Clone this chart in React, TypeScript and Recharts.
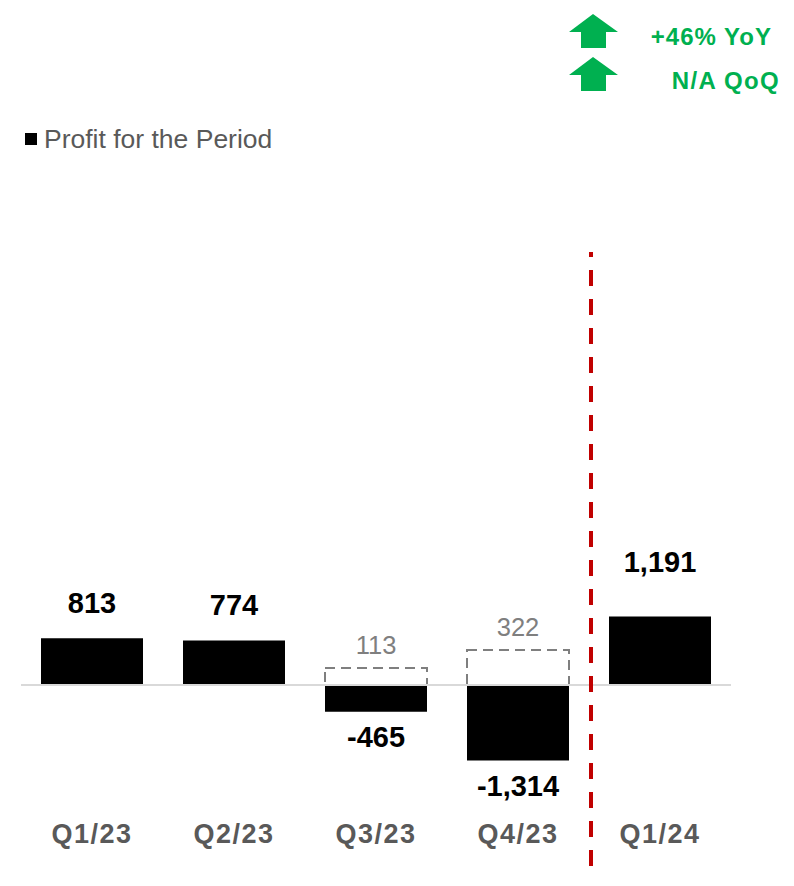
import React from 'react';
import { BarChart, Bar, XAxis, YAxis, ReferenceLine, LabelList, Legend } from 'recharts';

const quarters = ['Q1/23', 'Q2/23', 'Q3/23', 'Q4/23', 'Q1/24'];
const profit = [813, 774, -465, -1314, 1191];
// Dashed "adjusted" boxes: heights as drawn in the picture, and their printed labels
const adjustedBox = [null, null, 296, 610, null];
const adjustedLabels = [null, null, 113, 322, null];
const growthLabels = ['+46% YoY', 'N/A QoQ'];
const seriesName = 'Profit for the Period';

const data = quarters.map((q, i) => ({
  quarter: q,
  profit: profit[i],
  adjusted: adjustedBox[i],
  adjustedLabel: adjustedLabels[i],
}));

const FONT = '"Liberation Sans", Arial, Helvetica, sans-serif';
const GREEN = '#00B050';

const fmt = (v: number) => (v < 0 ? '-' : '') + Math.abs(v).toLocaleString('en-US');

const ProfitLabel = (props: any) => {
  const { x, y, width, height, value, index } = props;
  if (value === null || value === undefined) return null;
  const top = Math.min(y, y + height);
  const bottom = Math.max(y, y + height);
  const lift = index === profit.length - 1 ? 45 : 25;
  const ty = value >= 0 ? top - lift : bottom + 35;
  return (
    <text x={x + width / 2} y={ty} textAnchor="middle" fontFamily={FONT} fontWeight="bold" fontSize={29} fill="#000">
      {fmt(value)}
    </text>
  );
};

const AdjustedLabel = (props: any) => {
  const { x, y, width, height, value } = props;
  if (value === null || value === undefined) return null;
  const top = Math.min(y, y + height);
  return (
    <text x={x + width / 2} y={top - 14} textAnchor="middle" fontFamily={FONT} fontSize={25.5} fill="#7F7F7F">
      {value}
    </text>
  );
};

const QuarterTick = (props: any) => {
  const { x, y, payload } = props;
  return (
    <text x={x} y={y} dy={64} textAnchor="middle" fontFamily={FONT} fontWeight="bold" fontSize={27} letterSpacing={1.5} fill="#595959">
      {payload.value}
    </text>
  );
};

const LegendContent = (props: any) => {
  const items = (props.payload || []).filter((p: any) => p.type !== 'none');
  return (
    <div style={{ display: 'flex', alignItems: 'center' }}>
      {items.map((it: any) => (
        <div key={it.value} style={{ display: 'flex', alignItems: 'center' }}>
          <span style={{ display: 'inline-block', width: 12, height: 12, background: '#000', marginRight: 7 }} />
          <span style={{ fontFamily: FONT, fontSize: 26.5, color: '#595959', lineHeight: '28px' }}>{it.value}</span>
        </div>
      ))}
    </div>
  );
};

const Divider = (props: any) => {
  const x = props.x1;
  return <line x1={x + 2} x2={x + 2} y1={866} y2={252} stroke="#C00000" strokeWidth={4} strokeDasharray="16 13" />;
};

const Arrow = ({ top }: { top: number }) => (
  <polygon
    points={`593,${top} 618,${top + 18} 606,${top + 18} 606,${top + 34} 581,${top + 34} 581,${top + 18} 569,${top + 18}`}
    fill={GREEN}
  />
);

export default function App() {
  return (
    <div style={{ position: 'absolute', left: 0, top: 0, width: 794, height: 886, background: '#fff' }}>
      <svg style={{ position: 'absolute', left: 0, top: 0 }} width={794} height={110}>
        <Arrow top={14} />
        <Arrow top={57} />
        <text x={772} y={45} textAnchor="end" fontFamily={FONT} fontWeight="bold" fontSize={24} letterSpacing={1} fill={GREEN}>
          {growthLabels[0]}
        </text>
        <text x={780} y={89} textAnchor="end" fontFamily={FONT} fontWeight="bold" fontSize={24} letterSpacing={1.3} fill={GREEN}>
          {growthLabels[1]}
        </text>
      </svg>
      <BarChart
        width={794}
        height={886}
        data={data}
        stackOffset="sign"
        barSize={102}
        margin={{ top: 593, right: 63, left: 21, bottom: 49 }}
        style={{ position: 'absolute', left: 0, top: 0 }}
      >
        <YAxis hide domain={[-1600, 1600]} allowDataOverflow />
        <XAxis dataKey="quarter" height={60} axisLine={false} tickLine={false} tickSize={0} tick={<QuarterTick />} interval={0} />
        <Legend
          layout="horizontal"
          verticalAlign="middle"
          align="center"
          content={<LegendContent />}
          wrapperStyle={{ position: 'absolute', top: 125, left: 25, width: 400 }}
        />
        <ReferenceLine y={0} stroke="#D9D9D9" strokeWidth={2} ifOverflow="visible" />
        <Bar dataKey="profit" name={seriesName} stackId="s" fill="#000" isAnimationActive={false}>
          <LabelList dataKey="profit" content={<ProfitLabel />} />
        </Bar>
        <Bar
          dataKey="adjusted"
          name="adjusted"
          stackId="s"
          legendType="none"
          fill="none"
          stroke="#7F7F7F"
          strokeWidth={2}
          strokeDasharray="10 6"
          isAnimationActive={false}
        >
          <LabelList dataKey="adjustedLabel" content={<AdjustedLabel />} />
        </Bar>
        <ReferenceLine x="Q1/24" position="start" ifOverflow="visible" shape={<Divider />} />
      </BarChart>
    </div>
  );
}
